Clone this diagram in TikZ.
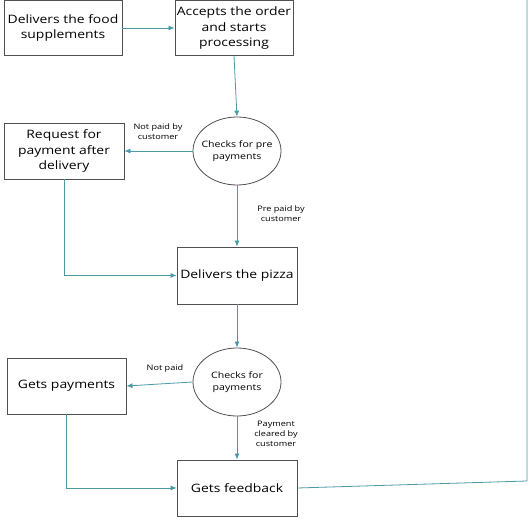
\documentclass[tikz,border=0pt]{standalone}
\usepackage{fontspec}
\setmainfont{Open Sans}[FakeStretch=1.2]
\usetikzlibrary{shapes.geometric,arrows.meta}
\definecolor{conn}{HTML}{4A9AA6}
\definecolor{bord}{HTML}{505050}
\newcommand{\ovaltext}[1]{\makebox[0pt][c]{\begin{tabular}{@{}c@{}}#1\end{tabular}}}
\tikzset{
  box/.style={draw=bord, line width=0.9pt, rectangle, align=center, font=\fontsize{11.6}{15.5}\selectfont, inner sep=0pt},
  oval/.style={draw=bord, line width=0.8pt, ellipse, font=\fontsize{8.8}{12}\selectfont, inner sep=0pt, minimum width=88pt, minimum height=68pt},
  flow/.style={draw=conn, line width=0.8pt, -{Latex[length=6pt,width=5pt]}},
  plain/.style={draw=conn, line width=0.8pt},
  lbl/.style={align=center, font=\fontsize{7.6}{10}\selectfont, inner sep=0pt}
}
\begin{document}
\begin{tikzpicture}[x=1pt,y=-1pt]
\useasboundingbox (0,0) rectangle (531,521);
\node[box, minimum width=118pt, minimum height=55pt] (b1) at (63,28) {Delivers the food\\supplements};
\node[box, minimum width=118pt, minimum height=55pt] (b2) at (234,28) {Accepts the order\\and starts\\processing};
\node[oval] (c1) at (237,151) {\ovaltext{Checks for pre\\payments}};
\node[box, minimum width=120pt, minimum height=56pt] (b3) at (64,151) {Request for\\payment after\\delivery};
\node[box, minimum width=120pt, minimum height=57pt] (b4) at (237,275.5) {Delivers the pizza};
\node[oval] (c2) at (237,382) {\ovaltext{Checks for\\payments}};
\node[box, minimum width=119pt, minimum height=56pt] (b5) at (66.5,386) {Gets payments};
\node[box, minimum width=120pt, minimum height=56pt] (b6) at (237,488) {Gets feedback};
\coordinate (top) at (527,0);
\coordinate (corner) at (527,481);

\draw[flow] (b1.east) -- (b2.west);
\draw[flow] (b2.south) -- (c1.north);
\draw[flow] (c1.west) -- (b3.east);
\draw[flow] (c1.south) -- (b4.north);
\draw[flow] (b3.south) |- (b4.west);
\draw[flow] (b4.south) -- (c2.north);
\draw[flow] (c2.west) -- (b5.east);
\draw[flow] (c2.south) -- (b6.north);
\draw[flow] (b5.south) |- (b6.west);
\draw[plain] (b6.east) -- (corner) -- (top);

\node[lbl] (l1) at (158,132) {Not paid by\\customer};
\node[lbl] (l2) at (281,214) {Pre paid by\\customer};
\node[lbl] (l3) at (165,369) {Not paid};
\node[lbl] (l4) at (276,434) {Payment\\cleared by\\customer};
\end{tikzpicture}
\end{document}
